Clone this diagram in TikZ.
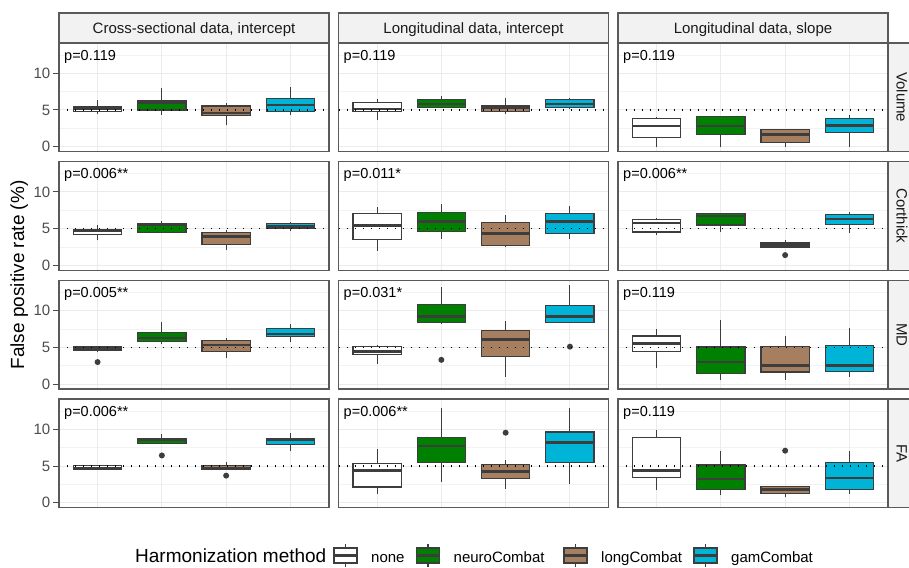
\documentclass[tikz,border=0pt]{standalone}
\usepackage{fontspec}
\setmainfont{Liberation Sans}
\definecolor{gridc}{HTML}{EBEBEB}
\definecolor{minorc}{HTML}{F3F3F3}
\definecolor{boxline}{HTML}{3D3D3D}
\definecolor{neuro}{HTML}{008000}
\definecolor{longc}{HTML}{A67F60}
\definecolor{gamc}{HTML}{00B4D8}
\definecolor{stripc}{HTML}{F2F2F2}
\definecolor{borderc}{HTML}{5A5A5A}
\definecolor{tickc}{HTML}{4D4D4D}
\definecolor{stript}{HTML}{1A1A1A}
\tikzset{
  wsk/.style={draw=boxline, line width=1.1pt},
  boxst/.style={draw=boxline, line width=1.1pt},
  medst/.style={draw=boxline, line width=2.4pt},
  outst/.style={fill=boxline},
  refline/.style={draw=black, line width=1.4pt, dash pattern=on 1.4pt off 6.6pt},
  border/.style={draw=borderc, line width=1.3pt},
  majgrid/.style={draw=gridc, line width=1pt},
  mingrid/.style={draw=minorc, line width=0.6pt},
  ptext/.style={inner sep=0pt, font=\fontsize{14.5}{17}\selectfont, text=black},
  striptext/.style={inner sep=0pt, font=\fontsize{15}{18}\selectfont, text=stript},
  ticklab/.style={inner sep=0pt, font=\fontsize{15}{18}\selectfont, text=tickc, anchor=east},
  stripbox/.style={draw=borderc, fill=stripc, line width=1.3pt},
  legtext/.style={inner sep=0pt, font=\fontsize{15}{18}\selectfont, text=black, anchor=base west},
}
\newcommand\bxp[7]{%
  \draw[wsk] (#1,#2) -- (#1,#3);
  \draw[wsk] (#1,#5) -- (#1,#6);
  \filldraw[boxst, fill=#7] ({#1-0.375},#3) rectangle ({#1+0.375},#5);
  \draw[medst] ({#1-0.375},#4) -- ({#1+0.375},#4);}
\newcommand\outl[2]{\fill[outst] (#1,#2) circle (3pt);}
\newcommand\panelbg{%
  \fill[white] (0.4,-0.67) rectangle (4.6,14.13);
  \foreach \yy in {2.5,7.5,12.5} {\draw[mingrid] (0.4,\yy) -- (4.6,\yy);}
  \foreach \yy in {0,5,10} {\draw[majgrid] (0.4,\yy) -- (4.6,\yy);}
  \foreach \xx in {1,2,3,4} {\draw[majgrid] (\xx,-0.67) -- (\xx,14.13);}}
\newcommand\panelfg[2]{%
  \draw[refline] (0.4,5) -- (4.6,5);
  \node[ptext, anchor=base west] (#2) at (0.478,11.8) {#1};
  \draw[border] (0.4,-0.67) rectangle (4.6,14.13);}
\newcommand\yticks[1]{%
  \foreach \yy in {0,5,10} {\draw[draw=tickc, line width=1pt] (0.4,\yy) ++(-6pt,0) -- (0.4,\yy);}
  \node[ticklab] (#1a) at ([xshift=-8.5pt]0.4,0) {0};
  \node[ticklab] (#1b) at ([xshift=-8.5pt]0.4,5) {5};
  \node[ticklab] (#1c) at ([xshift=-8.5pt]0.4,10) {10};}
\begin{document}
\begin{tikzpicture}[x=1pt,y=1pt]
\useasboundingbox (0,0) rectangle (909,567);
\clip (0,0) rectangle (909,567);
\fill[white] (0,0) rectangle (909,567);

% column strips
\draw[stripbox] (59,524) rectangle (329,554);
\node[striptext, anchor=base] (s1) at (194,533.7) {Cross-sectional data, intercept};
\draw[stripbox] (338.5,524) rectangle (608.5,554);
\node[striptext, anchor=base] (s2) at (473.5,533.7) {Longitudinal data, intercept};
\draw[stripbox] (618,524) rectangle (888,554);
\node[striptext, anchor=base] (s3) at (753,533.7) {Longitudinal data, slope};

% row strips
\draw[stripbox] (888,415.4) rectangle (920,524);
\node[striptext, anchor=base, rotate=-90] (r1) at (896.5,469.7) {Volume};
\draw[stripbox] (888,296.7) rectangle (920,405.3);
\node[striptext, anchor=base, rotate=-90] (r2) at (896.5,351) {Corthick};
\draw[stripbox] (888,178) rectangle (920,286.6);
\node[striptext, anchor=base, rotate=-90] (r3) at (896.5,232.3) {MD};
\draw[stripbox] (888,59.3) rectangle (920,167.9);
\node[striptext, anchor=base, rotate=-90] (r4) at (896.5,113.6) {FA};

% y axis title
\node[inner sep=0pt, font=\fontsize{19}{22}\selectfont, anchor=base, rotate=90] (ytitle) at (24,292) {False positive rate (\%)};

% ===== Row 1 =====
\begin{scope}[shift={(33.286pt,420.316pt)},x=64.286pt,y=7.338pt]
\panelbg
\bxp{1}{4.4}{4.75}{5.2}{5.5}{6.4}{white}
\bxp{2}{4.3}{5.0}{6.0}{6.35}{8.0}{neuro}
\bxp{3}{2.9}{4.25}{4.55}{5.55}{5.9}{longc}
\bxp{4}{4.35}{4.85}{5.7}{6.6}{8.1}{gamc}
\panelfg{p=0.119}{p11}
\yticks{t1}
\end{scope}
\begin{scope}[shift={(312.786pt,420.316pt)},x=64.286pt,y=7.338pt]
\panelbg
\bxp{1}{3.65}{4.75}{5.1}{6.0}{6.45}{white}
\bxp{2}{5.3}{5.35}{5.85}{6.45}{6.9}{neuro}
\bxp{3}{4.45}{4.85}{5.35}{5.65}{6.7}{longc}
\bxp{4}{5.2}{5.35}{5.85}{6.4}{6.65}{gamc}
\panelfg{p=0.119}{p12}
\end{scope}
\begin{scope}[shift={(592.286pt,420.316pt)},x=64.286pt,y=7.338pt]
\panelbg
\bxp{1}{0}{1.3}{2.85}{3.85}{4.1}{white}
\bxp{2}{0}{1.7}{2.85}{4.1}{4.1}{neuro}
\bxp{3}{0}{0.55}{1.65}{2.35}{2.35}{longc}
\bxp{4}{0}{1.95}{2.9}{3.8}{4.3}{gamc}
\panelfg{p=0.119}{p13}
\end{scope}

% ===== Row 2 =====
\begin{scope}[shift={(33.286pt,301.616pt)},x=64.286pt,y=7.338pt]
\panelbg
\bxp{1}{3.45}{4.15}{4.7}{4.95}{5.45}{white}
\bxp{2}{4.5}{4.5}{5.55}{5.7}{6.0}{neuro}
\bxp{3}{2.15}{2.9}{3.95}{4.45}{4.8}{longc}
\bxp{4}{4.65}{5.1}{5.35}{5.7}{5.9}{gamc}
\panelfg{p=0.006**}{p21}
\yticks{t2}
\end{scope}
\begin{scope}[shift={(312.786pt,301.616pt)},x=64.286pt,y=7.338pt]
\panelbg
\bxp{1}{2.0}{3.55}{5.45}{7.05}{7.95}{white}
\bxp{2}{3.6}{4.6}{6.0}{7.25}{8.35}{neuro}
\bxp{3}{2.45}{2.75}{4.35}{5.9}{6.8}{longc}
\bxp{4}{3.55}{4.35}{6.0}{7.05}{8.05}{gamc}
\panelfg{p=0.011*}{p22}
\end{scope}
\begin{scope}[shift={(592.286pt,301.616pt)},x=64.286pt,y=7.338pt]
\panelbg
\bxp{1}{4.1}{4.55}{5.8}{6.25}{6.45}{white}
\bxp{2}{4.5}{5.5}{6.7}{7.05}{7.2}{neuro}
\bxp{3}{2.5}{2.5}{2.85}{3.15}{3.45}{longc}
\outl{3}{1.4}
\bxp{4}{4.35}{5.55}{6.35}{6.9}{7.25}{gamc}
\panelfg{p=0.006**}{p23}
\end{scope}

% ===== Row 3 =====
\begin{scope}[shift={(33.286pt,182.916pt)},x=64.286pt,y=7.338pt]
\panelbg
\bxp{1}{4.5}{4.55}{4.75}{5.05}{5.1}{white}
\outl{1}{3.0}
\bxp{2}{5.4}{5.85}{6.3}{7.05}{8.45}{neuro}
\bxp{3}{3.55}{4.5}{5.3}{6.0}{6.25}{longc}
\bxp{4}{5.7}{6.45}{6.85}{7.55}{8.2}{gamc}
\panelfg{p=0.005**}{p31}
\yticks{t3}
\end{scope}
\begin{scope}[shift={(312.786pt,182.916pt)},x=64.286pt,y=7.338pt]
\panelbg
\bxp{1}{2.8}{4.0}{4.45}{5.1}{5.3}{white}
\bxp{2}{8.2}{8.35}{9.2}{10.9}{13.2}{neuro}
\outl{2}{3.3}
\bxp{3}{1.0}{3.75}{6.05}{7.25}{8.6}{longc}
\bxp{4}{8.4}{8.4}{9.2}{10.75}{13.45}{gamc}
\outl{4}{5.1}
\panelfg{p=0.031*}{p32}
\end{scope}
\begin{scope}[shift={(592.286pt,182.916pt)},x=64.286pt,y=7.338pt]
\panelbg
\bxp{1}{2.25}{4.5}{5.55}{6.55}{7.55}{white}
\bxp{2}{0.55}{1.4}{3.05}{5.05}{8.8}{neuro}
\bxp{3}{0.55}{1.65}{2.55}{5.1}{6.55}{longc}
\bxp{4}{1.0}{1.75}{2.55}{5.2}{7.7}{gamc}
\panelfg{p=0.119}{p33}
\end{scope}

% ===== Row 4 =====
\begin{scope}[shift={(33.286pt,64.216pt)},x=64.286pt,y=7.338pt]
\panelbg
\bxp{1}{4.5}{4.55}{4.75}{5.05}{5.1}{white}
\bxp{2}{8.1}{8.1}{8.65}{8.8}{9.35}{neuro}
\outl{2}{6.45}
\bxp{3}{4.5}{4.5}{4.75}{5.05}{5.6}{longc}
\outl{3}{3.7}
\bxp{4}{7.05}{7.9}{8.55}{8.8}{9.45}{gamc}
\panelfg{p=0.006**}{p41}
\yticks{t4}
\end{scope}
\begin{scope}[shift={(312.786pt,64.216pt)},x=64.286pt,y=7.338pt]
\panelbg
\bxp{1}{1.25}{2.15}{4.4}{5.4}{7.3}{white}
\bxp{2}{2.9}{5.55}{7.75}{8.9}{12.85}{neuro}
\bxp{3}{1.9}{3.3}{4.25}{5.2}{5.85}{longc}
\outl{3}{9.55}
\bxp{4}{2.5}{5.5}{8.2}{9.65}{12.85}{gamc}
\panelfg{p=0.006**}{p42}
\end{scope}
\begin{scope}[shift={(592.286pt,64.216pt)},x=64.286pt,y=7.338pt]
\panelbg
\bxp{1}{1.8}{3.45}{4.4}{8.9}{9.9}{white}
\bxp{2}{1.0}{1.8}{3.25}{5.15}{7.05}{neuro}
\bxp{3}{0.75}{1.25}{1.8}{2.25}{2.25}{longc}
\outl{3}{7.1}
\bxp{4}{1.2}{1.8}{3.4}{5.55}{7.05}{gamc}
\panelfg{p=0.119}{p43}
\end{scope}

% ===== Legend =====
\node[inner sep=0pt, font=\fontsize{19}{22}\selectfont, anchor=base west] (ltitle) at (135,5) {Harmonization method};
\begin{scope}[x=1pt,y=1pt]
\foreach \kx/\kc in {334/white,416.5/neuro,564/longc,694/gamc} {
  \draw[wsk] (\kx+11.5,0) -- (\kx+11.5,23);
  \filldraw[boxst, fill=\kc] (\kx,4) rectangle (\kx+23,19);
  \draw[draw=boxline, line width=2.2pt] (\kx,11.5) -- (\kx+23,11.5);
}
\end{scope}
\node[legtext] (l1) at (371,5) {none};
\node[legtext] (l2) at (453.5,5) {neuroCombat};
\node[legtext] (l3) at (601,5) {longCombat};
\node[legtext] (l4) at (731,5) {gamCombat};
\end{tikzpicture}
\end{document}
